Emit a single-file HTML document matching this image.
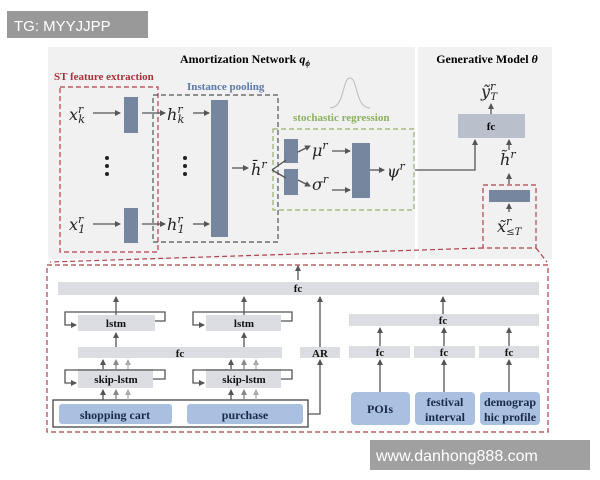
<!DOCTYPE html>
<html><head><style>body{margin:0;background:#fff}svg{display:block}</style></head><body>
<svg width="600" height="480" viewBox="0 0 600 480" xmlns="http://www.w3.org/2000/svg" font-family="Liberation Serif, serif">
<defs>
<marker id="a" markerWidth="6" markerHeight="6" refX="5" refY="3" orient="auto" markerUnits="userSpaceOnUse"><path d="M0,0 L6,3 L0,6z" fill="#555"/></marker>
<marker id="b" markerWidth="6" markerHeight="6" refX="5" refY="3" orient="auto" markerUnits="userSpaceOnUse"><path d="M0,0 L6,3 L0,6z" fill="#888"/></marker>
<marker id="c" markerWidth="6" markerHeight="6" refX="5" refY="3" orient="auto" markerUnits="userSpaceOnUse"><path d="M0,0 L6,3 L0,6z" fill="#aaa"/></marker>
</defs>
<rect x="48" y="47" width="367" height="212" fill="#f1f1f2"/>
<rect x="418" y="47" width="134" height="212" fill="#f1f1f2"/>
<text x="245" y="63" font-size="12" font-weight="bold" text-anchor="middle">Amortization Network <tspan font-style="italic">q</tspan><tspan font-size="8" font-style="italic" dy="3">ϕ</tspan></text>
<text x="487" y="63" font-size="12" font-weight="bold" text-anchor="middle">Generative Model <tspan font-style="italic">θ</tspan></text>
<text x="54" y="80" font-size="11" font-weight="bold" fill="#a8323a">ST feature extraction</text>
<text x="187" y="90" font-size="11" font-weight="bold" fill="#5a78a8">Instance pooling</text>
<text x="293" y="121" font-size="11" font-weight="bold" fill="#8ab060">stochastic regression</text>
<path d="M330,108 C345,108 342,78 350,78 C358,78 355,108 370,108" fill="none" stroke="#bbb"/>
<g fill="none" stroke-dasharray="5,3" stroke-width="1.2">
<rect x="60" y="87" width="98" height="165" stroke="#b0404a"/>
<rect x="153" y="95" width="125" height="147" stroke="#555"/>
<rect x="273" y="129" width="141" height="81" stroke="#9ab070"/>
<rect x="483" y="185" width="53" height="63" stroke="#b0404a"/>
<path d="M483,248 L50,262 M536,248 L547,262" stroke="#b0404a"/>
<rect x="47" y="265" width="501" height="167" stroke="#b0404a"/>
</g>
<g fill="#76869f">
<rect x="124" y="97" width="14" height="36"/><rect x="124" y="208" width="14" height="35"/>
<rect x="211" y="100" width="17" height="137"/>
<rect x="284" y="139" width="14" height="24"/><rect x="284" y="169" width="14" height="26"/>
<rect x="352" y="143" width="18" height="55"/>
<rect x="489" y="190" width="41" height="12"/>
</g>
<g stroke="#555" stroke-width="1.3" fill="none" marker-end="url(#a)">
<path d="M93,113H120"/><path d="M93,224H120"/><path d="M142,113H165"/><path d="M142,224H165"/>
<path d="M193,113H209"/><path d="M193,224H209"/><path d="M232,168H248"/>
<path d="M298,152L310,146"/><path d="M298,180L310,186"/>
<path d="M332,151H350"/><path d="M332,190H350"/><path d="M370,170H384"/>
<path d="M415,170H475V140"/><path d="M491,114V104"/><path d="M509,150V140"/><path d="M509,184V174"/><path d="M509,212V204"/>
<path d="M272,170L286,160" marker-end="none"/><path d="M272,170L286,178" marker-end="none"/>
</g>
<g font-size="9" fill="#222"><circle cx="107" cy="158" r="2"/><circle cx="107" cy="166" r="2"/><circle cx="107" cy="174" r="2"/><circle cx="185" cy="158" r="2"/><circle cx="185" cy="166" r="2"/><circle cx="185" cy="174" r="2"/></g>
<g font-family="DejaVu Serif, serif" font-style="italic" font-size="16" fill="#222">
<text x="69" y="120">x<tspan font-size="11" dy="-7">r</tspan><tspan font-size="11" dx="-5" dy="10">k</tspan></text>
<text x="69" y="230">x<tspan font-size="11" dy="-7">r</tspan><tspan font-size="11" dx="-5" dy="10">1</tspan></text>
<text x="167" y="120">h<tspan font-size="11" dy="-7">r</tspan><tspan font-size="11" dx="-5" dy="10">k</tspan></text>
<text x="167" y="230">h<tspan font-size="11" dy="-7">r</tspan><tspan font-size="11" dx="-5" dy="10">1</tspan></text>
<text x="251" y="175">h̄<tspan font-size="11" dy="-7">r</tspan></text>
<text x="312" y="156">μ<tspan font-size="11" dy="-7">r</tspan></text>
<text x="312" y="190">σ<tspan font-size="11" dy="-7">r</tspan></text>
<text x="387" y="177">ψ<tspan font-size="11" dy="-7">r</tspan></text>
<text x="481" y="97">ỹ<tspan font-size="11" dy="-7">r</tspan><tspan font-size="10" dx="-5" dy="10">T</tspan></text>
<text x="500" y="165">h̃<tspan font-size="11" dy="-7">r</tspan></text>
<text x="497" y="232">x̃<tspan font-size="11" dy="-7">r</tspan><tspan font-size="10" dx="-5" dy="10">≤T</tspan></text>
</g>
<rect x="458" y="114" width="67" height="24" fill="#b9c0cc"/>
<text x="491" y="130" font-size="11" font-weight="bold" text-anchor="middle">fc</text>
<!-- bottom -->
<g fill="#dcdde2">
<rect x="58" y="282" width="481" height="13"/>
<rect x="78" y="315" width="77" height="16"/><rect x="206" y="315" width="75" height="16"/>
<rect x="78" y="347" width="204" height="11"/><rect x="300" y="347" width="40" height="11"/>
<rect x="78" y="369" width="75" height="19"/><rect x="206" y="369" width="75" height="19"/>
<rect x="349" y="314" width="190" height="12"/>
<rect x="349" y="346" width="61" height="12"/><rect x="414" y="346" width="61" height="12"/><rect x="479" y="346" width="60" height="12"/>
</g>
<g fill="#a9c0e0">
<rect x="59" y="404" width="113" height="20" rx="3"/><rect x="187" y="404" width="116" height="20" rx="3"/>
<rect x="351" y="392" width="59" height="33" rx="4"/><rect x="415" y="392" width="60" height="33" rx="4"/><rect x="480" y="392" width="60" height="33" rx="4"/>
</g>
<rect x="53" y="400" width="255" height="27" fill="none" stroke="#444" stroke-width="1.3"/>
<g stroke="#555" stroke-width="1.3" fill="none" marker-end="url(#a)">
<path d="M298,280V266"/><path d="M116,315V297"/><path d="M244,315V297"/>
<path d="M155,321H165V312H65V325H76"/><path d="M281,321H292V312H193V325H204"/>
<path d="M116,347V333"/><path d="M244,347V333"/>
<path d="M153,379H165V370H65V383H76"/><path d="M281,379H292V370H193V383H204"/>
<path d="M103,369V360"/><path d="M103,400V390"/><path d="M231,369V360"/><path d="M231,400V390"/>
<path d="M308,414H320V360"/><path d="M320,347V297"/>
<path d="M443,314V297"/><path d="M380,346V328"/><path d="M444,346V328"/><path d="M509,346V328"/>
<path d="M380,392V360"/><path d="M444,392V360"/><path d="M509,392V360"/>
</g>
<g stroke="#888" stroke-width="1.3" marker-end="url(#b)"><path d="M116,369V360"/><path d="M116,400V390"/><path d="M244,369V360"/><path d="M244,400V390"/></g>
<g stroke="#aaa" stroke-width="1.3" marker-end="url(#c)"><path d="M128,369V360"/><path d="M128,400V390"/><path d="M256,369V360"/><path d="M256,400V390"/></g>
<g font-size="11" font-weight="bold" text-anchor="middle" fill="#111">
<text x="298" y="292">fc</text><text x="116" y="327">lstm</text><text x="244" y="327">lstm</text>
<text x="180" y="357">fc</text><text x="320" y="357">AR</text>
<text x="116" y="383">skip-lstm</text><text x="244" y="383">skip-lstm</text>
<text x="443" y="324">fc</text><text x="380" y="356">fc</text><text x="444" y="356">fc</text><text x="509" y="356">fc</text>
</g>
<g font-size="12" font-weight="bold" text-anchor="middle" fill="#1a2a48">
<text x="115" y="419">shopping cart</text><text x="245" y="419">purchase</text>
<text x="380" y="413">POIs</text><text x="445" y="406">festival</text><text x="445" y="421">interval</text>
<text x="510" y="406">demograp</text><text x="510" y="421">hic profile</text>
</g>
<rect x="7" y="11" width="141" height="27" fill="#999"/>
<text x="14" y="31" font-family="Liberation Sans, sans-serif" font-size="15" fill="#fff">TG: MYYJJPP</text>
<rect x="370" y="440" width="220" height="30" fill="#a0a0a0"/>
<text x="376" y="461" font-family="Liberation Sans, sans-serif" font-size="16" fill="#fff">www.danhong888.com</text>
</svg>
</body></html>
